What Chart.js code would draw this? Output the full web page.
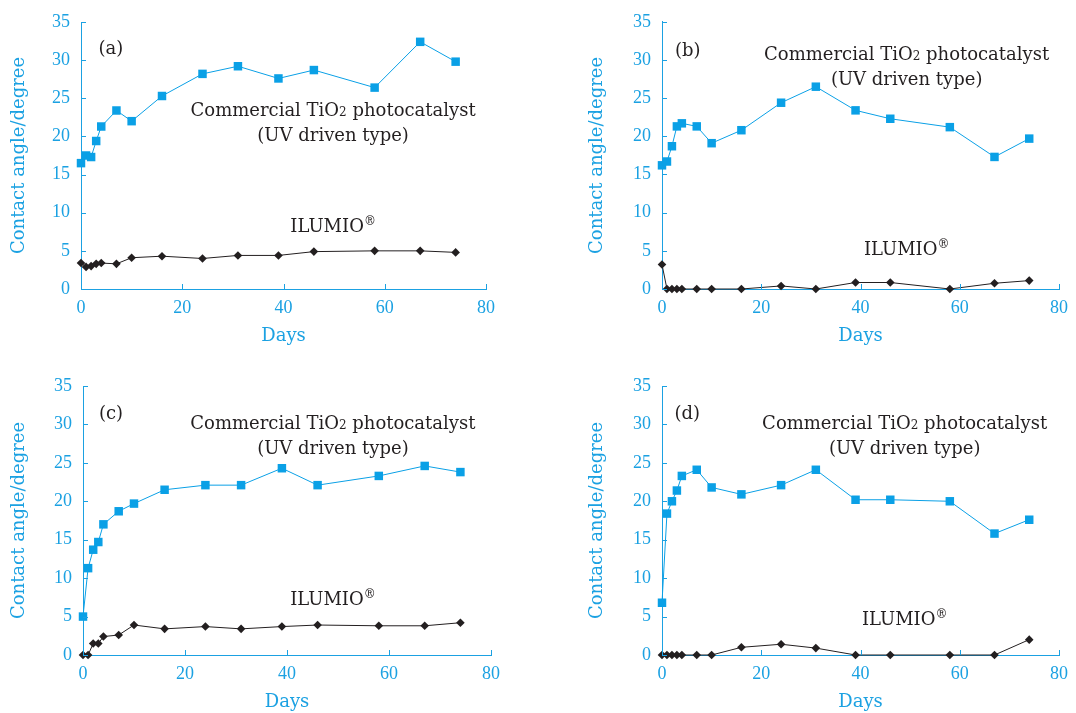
<!DOCTYPE html>
<html>
<head>
<meta charset="utf-8">
<script src="https://cdn.jsdelivr.net/npm/chart.js@4.4.0/dist/chart.umd.min.js"></script>
<style>
    html, body { margin: 0; padding: 0; background: #fff; }
    body { width: 1076px; height: 713px; position: relative; overflow: hidden; }
    canvas { position: absolute; }
</style>
</head>
<body>
<canvas id="panel-a"></canvas>
<canvas id="panel-b"></canvas>
<canvas id="panel-c"></canvas>
<canvas id="panel-d"></canvas>
<script>
// Sampling days (same for every panel)
const days = [0, 1, 2, 3, 4, 7, 10, 16, 24, 31, 39, 46, 58, 67, 74];
const xTicks = [0, 20, 40, 60, 80];
const yTicks = [0, 5, 10, 15, 20, 25, 30, 35];

// Contact angle (degree)
const tio2A   = [16.5, 17.5, 17.3, 19.4, 21.3, 23.4, 22.0, 25.3, 28.2, 29.2, 27.6, 28.7, 26.4, 32.4, 29.8];
const ilumioA = [3.4, 2.9, 3.0, 3.3, 3.4, 3.3, 4.1, 4.3, 4.0, 4.4, 4.4, 4.9, 5.0, 5.0, 4.8];
const tio2B   = [16.2, 16.7, 18.7, 21.3, 21.7, 21.3, 19.1, 20.8, 24.4, 26.5, 23.4, 22.3, 21.2, 17.3, 19.7];
const ilumioB = [3.2, 0, 0, 0, 0, 0, 0, 0, 0.4, 0, 0.85, 0.85, 0, 0.75, 1.1];
const tio2C   = [5.0, 11.3, 13.7, 14.7, 17.0, 18.7, 19.7, 21.5, 22.1, 22.1, 24.3, 22.1, 23.3, 24.6, 23.8];
const ilumioC = [0, 0, 1.5, 1.5, 2.4, 2.6, 3.9, 3.4, 3.7, 3.4, 3.7, 3.9, 3.8, 3.8, 4.2];
const tio2D   = [6.8, 18.4, 20.0, 21.4, 23.3, 24.1, 21.8, 20.9, 22.1, 24.1, 20.2, 20.2, 20.0, 15.8, 17.6];
const ilumioD = [0, 0, 0, 0, 0, 0, 0, 1.0, 1.4, 0.9, 0, 0, 0, 0, 2.0];

const BLUE = '#1ba1e2';
const MARK = '#0aa0e6';
const INK = '#231f20';
const SERIF = '"DejaVu Serif", serif';
const TICKFONT = '"Liberation Serif", serif';

// box = canvas rect on the page, area = wanted chart area [left, right, top, bottom] on the page
const panels = [
    { id: 'panel-a', tag: '(a)', tio2: tio2A, ilumio: ilumioA, box: [0, 0, 540, 356],   area: [81, 486, 22, 289],
      tagAt: [5.9, 31.6], tio2At: [49.8, 23.5], ilumioAt: [49.8, 8.3] },
    { id: 'panel-b', tag: '(b)', tio2: tio2B, ilumio: ilumioB, box: [578, 0, 498, 356], area: [662, 1066, 19, 289],
      tagAt: [5.2, 31.4], tio2At: [49.3, 30.85], ilumioAt: [49.3, 5.3] },
    { id: 'panel-c', tag: '(c)', tio2: tio2C, ilumio: ilumioC, box: [0, 350, 540, 363], area: [83, 491, 386, 655],
      tagAt: [5.5, 31.6], tio2At: [49.0, 30.2], ilumioAt: [49.0, 7.4] },
    { id: 'panel-d', tag: '(d)', tio2: tio2D, ilumio: ilumioD, box: [578, 350, 498, 363], area: [662, 1068, 386, 655],
      tagAt: [5.1, 31.6], tio2At: [48.9, 30.2], ilumioAt: [48.9, 4.8] },
];

// draw pieces of text side by side, centred on cx
function drawRuns(ctx, runs, cx, baseY) {
    const widths = runs.map(r => { ctx.font = `${r.size}px ${SERIF}`; return ctx.measureText(r.text).width; });
    let x = cx - widths.reduce((s, w) => s + w, 0) / 2;
    runs.forEach((r, i) => {
        ctx.font = `${r.size}px ${SERIF}`;
        ctx.fillText(r.text, x, baseY + (r.dy || 0));
        x += widths[i];
    });
}

const inwardTicks = {
    id: 'inwardTicks',
    afterDraw(chart) {
        const { ctx, chartArea: a, scales: { x, y } } = chart;
        ctx.save();
        ctx.strokeStyle = BLUE;
        ctx.lineWidth = 1;
        ctx.beginPath();
        y.ticks.forEach(t => {
            const py = Math.round(y.getPixelForValue(t.value)) + 0.5;
            ctx.moveTo(a.left, py); ctx.lineTo(a.left + 5, py);
        });
        x.ticks.forEach(t => {
            const px = Math.round(x.getPixelForValue(t.value)) + 0.5;
            ctx.moveTo(px, a.bottom); ctx.lineTo(px, a.bottom - 5);
        });
        ctx.stroke();
        ctx.restore();
    }
};

const panelText = {
    id: 'panelText',
    afterDraw(chart) {
        const p = chart.config.options.plugins.panelText;
        const { ctx, scales: { x, y } } = chart;
        ctx.save();
        ctx.fillStyle = INK;
        ctx.textAlign = 'left';
        ctx.textBaseline = 'alphabetic';
        const at = ([dx, dy]) => [x.getPixelForValue(dx), y.getPixelForValue(dy) + 6.5];
        let [cx, cy] = at(p.tagAt);
        drawRuns(ctx, [{ text: p.tag, size: 18 }], cx, cy);
        [cx, cy] = at(p.tio2At);
        drawRuns(ctx, [{ text: 'Commercial TiO', size: 18 }, { text: '2', size: 12 }, { text: ' photocatalyst', size: 18 }], cx, cy);
        drawRuns(ctx, [{ text: '(UV driven type)', size: 18 }], cx, cy + 25);
        [cx, cy] = at(p.ilumioAt);
        drawRuns(ctx, [{ text: 'ILUMIO', size: 18 }, { text: '\u00AE', size: 12, dy: -7 }], cx, cy);
        ctx.restore();
    }
};

function makeChart(p) {
    const [bx, by, bw, bh] = p.box;
    const [l, r, t, b] = p.area;
    const canvas = document.getElementById(p.id);
    canvas.width = bw;
    canvas.height = bh;
    canvas.style.left = bx + 'px';
    canvas.style.top = by + 'px';
    const yW = l - bx;
    const xH = by + bh - b;

    return new Chart(canvas, {
        type: 'line',
        data: {
            datasets: [{
                label: 'Commercial TiO2 photocatalyst',
                data: days.map((d, i) => ({ x: d, y: p.tio2[i] })),
                borderColor: MARK,
                backgroundColor: MARK,
                borderWidth: 1,
                pointStyle: 'rect',
                pointRadius: 6,
                pointBorderWidth: 0,
                clip: false,
            }, {
                label: 'ILUMIO',
                data: days.map((d, i) => ({ x: d, y: p.ilumio[i] })),
                borderColor: INK,
                backgroundColor: INK,
                borderWidth: 1,
                pointStyle: 'rectRot',
                pointRadius: 4.3,
                pointBorderWidth: 0,
                clip: false,
            }],
        },
        options: {
            responsive: false,
            animation: false,
            events: [],
            layout: { padding: { left: 0, top: t - by, right: bx + bw - r, bottom: 0 } },
            plugins: {
                legend: { display: false },
                tooltip: { enabled: false },
                panelText: p,
            },
            scales: {
                x: {
                    type: 'linear',
                    min: xTicks[0],
                    max: xTicks[xTicks.length - 1],
                    afterBuildTicks: s => { s.ticks = xTicks.map(v => ({ value: v })); },
                    afterFit: s => { s.height = xH; },
                    grid: { display: false, drawTicks: false },
                    border: { display: true, color: BLUE, width: 1 },
                    ticks: { color: BLUE, padding: 8, font: { family: TICKFONT, size: 18 } },
                    title: { display: true, text: 'Days', color: BLUE, font: { family: SERIF, size: 18 },
                             padding: { top: 0, bottom: xH - 58 } },
                },
                y: {
                    type: 'linear',
                    min: yTicks[0],
                    max: yTicks[yTicks.length - 1],
                    afterBuildTicks: s => { s.ticks = yTicks.map(v => ({ value: v })); },
                    afterFit: s => { s.width = yW; },
                    grid: { display: false, drawTicks: false },
                    border: { display: true, color: BLUE, width: 1 },
                    ticks: { color: BLUE, padding: 11, font: { family: TICKFONT, size: 18 } },
                    title: { display: true, text: 'Contact angle/degree', color: BLUE, font: { family: SERIF, size: 18 },
                             padding: { top: 9, bottom: 0 } },
                },
            },
        },
        plugins: [inwardTicks, panelText],
    });
}

panels.forEach(makeChart);
</script>
</body>
</html>
